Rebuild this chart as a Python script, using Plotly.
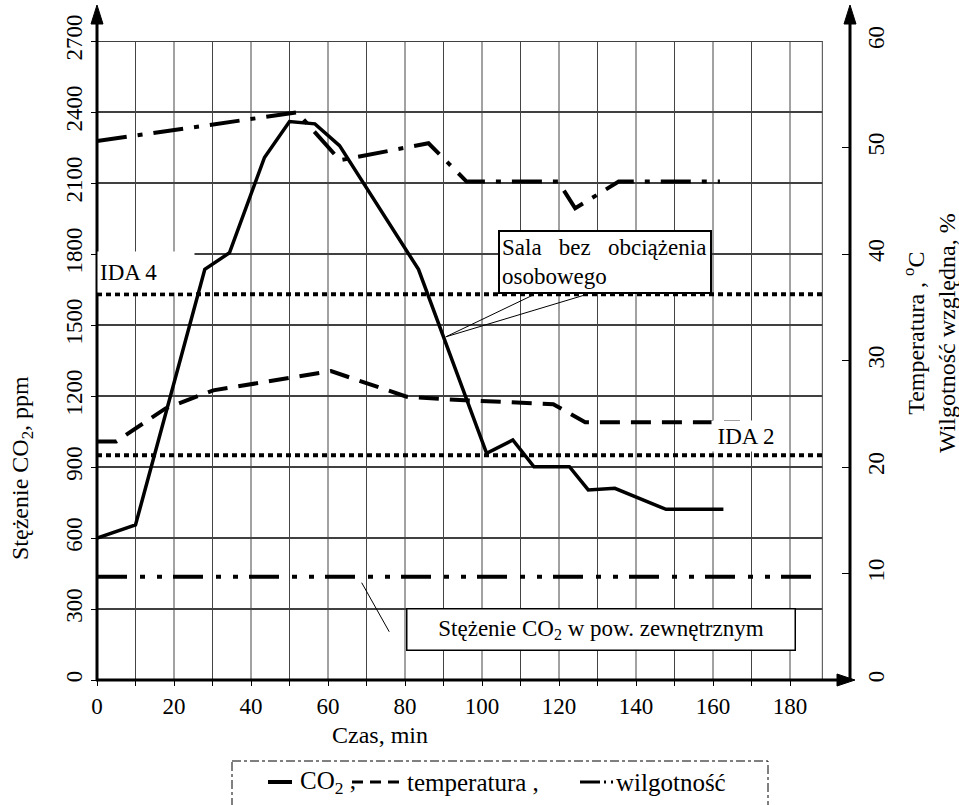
import plotly.graph_objects as go

# ---------------- data ----------------
time_co2 = [0, 10, 28, 34.4, 43.5, 50, 56.6, 63, 83.5, 101.2, 108, 113.5, 122.7, 127.6, 134.5, 147.8, 162.7]
co2_ppm = [600, 655, 1735, 1805, 2208, 2360, 2350, 2258, 1735, 958, 1014, 901, 901, 803, 810, 721, 721]

time_temp = [0, 5, 17.8, 30.2, 60.8, 80.4, 90.8, 118.5, 126.8, 167]
temp_c = [22.4, 22.4, 25.5, 27.2, 29.0, 26.6, 26.35, 25.9, 24.2, 24.2]

time_hum = [0, 52, 63.1, 86.1, 96, 119.8, 124.2, 135.5, 161.8]
hum_pct = [50.6, 53.3, 48.8, 50.4, 46.8, 46.8, 44.3, 46.8, 46.8]

ida4_ppm = 1630
ida2_ppm = 950
outdoor_ppm = 436
ref_time = [0, 188.4]
outdoor_time = [0, 186.5]

x_ticks = list(range(0, 181, 20))
x_minor = list(range(0, 181, 10))
y_ticks = list(range(0, 2701, 300))
y2_ticks = list(range(0, 61, 10))
grid_x = list(range(10, 181, 10)) + [188.4]
grid_y = list(range(300, 2701, 300))

# ---------------- geometry helpers (pixel -> paper) ----------------
W, H = 959, 805
L, R, T, B = 97, 109, 41, 125
PW, PH = W - L - R, H - T - B


def px(x):
    return (x - L) / PW


def py(y):
    return (H - B - y) / PH


FONT = "Liberation Serif"

fig = go.Figure()

# reference lines
fig.add_trace(go.Scatter(x=ref_time, y=[ida4_ppm] * 2, mode="lines",
                         line=dict(color="black", width=4, dash="5px,4px"), showlegend=False))
fig.add_trace(go.Scatter(x=ref_time, y=[ida2_ppm] * 2, mode="lines",
                         line=dict(color="black", width=4, dash="5px,4px"), showlegend=False))
fig.add_trace(go.Scatter(x=outdoor_time, y=[outdoor_ppm] * 2, mode="lines",
                         line=dict(color="black", width=4, dash="30px,13px,5px,12px,5px,11px"),
                         showlegend=False))
# measured series
fig.add_trace(go.Scatter(x=time_co2, y=co2_ppm, mode="lines", name="CO2",
                         line=dict(color="black", width=3.5), showlegend=False))
fig.add_trace(go.Scatter(x=time_temp, y=temp_c, mode="lines", name="temperatura", yaxis="y2",
                         line=dict(color="black", width=4, dash="20px,11px"), showlegend=False))
fig.add_trace(go.Scatter(x=time_hum, y=hum_pct, mode="lines", name="wilgotność", yaxis="y2",
                         line=dict(color="black", width=4, dash="30px,11px,5px,11px"),
                         showlegend=False))

shapes = []
# grid
for v in grid_y:
    shapes.append(dict(type="line", xref="x", yref="y", x0=0, x1=188.4, y0=v, y1=v,
                       line=dict(color="black", width=1.3), layer="below"))
for v in grid_x:
    shapes.append(dict(type="line", xref="x", yref="y", x0=v, x1=v, y0=0, y1=2700,
                       line=dict(color="#444", width=1), layer="below"))

# axes lines
shapes.append(dict(type="line", xref="paper", yref="paper", x0=px(97), x1=px(97), y0=py(680), y1=py(22),
                   line=dict(color="black", width=3)))
shapes.append(dict(type="line", xref="paper", yref="paper", x0=px(850), x1=px(850), y0=py(680), y1=py(22),
                   line=dict(color="black", width=3)))
shapes.append(dict(type="line", xref="paper", yref="paper", x0=px(96), x1=px(840), y0=py(680), y1=py(680),
                   line=dict(color="black", width=3)))
# arrow heads
for (tx, ty, bx1, by1, bx2, by2) in [(97, 5, 91, 24, 103, 24), (850, 5, 844, 24, 856, 24),
                                     (855, 680, 837, 674, 837, 686)]:
    shapes.append(dict(type="path", xref="paper", yref="paper",
                       path=f"M {px(tx)},{py(ty)} L {px(bx1)},{py(by1)} L {px(bx2)},{py(by2)} Z",
                       fillcolor="black", line=dict(color="black", width=1)))

# leader lines
shapes.append(dict(type="line", xref="x", yref="y", x0=90.6, y0=1450, x1=113.3, y1=1627,
                   line=dict(color="black", width=1)))
shapes.append(dict(type="line", xref="x", yref="y", x0=90.6, y0=1450, x1=126.75, y1=1627,
                   line=dict(color="black", width=1)))
shapes.append(dict(type="line", xref="x", yref="y", x0=68.75, y0=411, x1=75.9, y1=204,
                   line=dict(color="black", width=1)))

# legend box + samples
LY = 782
shapes.append(dict(type="rect", xref="paper", yref="paper", x0=px(232), x1=px(768), y0=py(761), y1=py(815),
                   line=dict(color="black", width=1, dash="dashdot")))
shapes.append(dict(type="line", xref="paper", yref="paper", x0=px(268), x1=px(292), y0=py(LY), y1=py(LY),
                   line=dict(color="black", width=4)))
shapes.append(dict(type="line", xref="paper", yref="paper", x0=px(352), x1=px(399), y0=py(LY), y1=py(LY),
                   line=dict(color="black", width=3, dash="11px,7px")))
shapes.append(dict(type="line", xref="paper", yref="paper", x0=px(580), x1=px(614), y0=py(LY), y1=py(LY),
                   line=dict(color="black", width=3, dash="20px,4px,2px,5px,2px,20px")))

annotations = []
TF = dict(family=FONT, size=23, color="black")
# IDA labels
annotations.append(dict(xref="x", yref="y", x=0, y=1722, xanchor="left", yanchor="middle",
                        text="IDA 4", showarrow=False, bgcolor="white", width=92, height=36,
                        align="left", borderpad=2, font=TF))
annotations.append(dict(xref="x", yref="y", x=168.6, y=1031, xanchor="center", yanchor="middle",
                        text="IDA 2", showarrow=False, bgcolor="white", width=66, height=28,
                        borderpad=1, font=TF))
# boxed notes
annotations.append(dict(xref="x", yref="y", x=104.2, y=1901, xanchor="left", yanchor="top",
                        text="Sala\u00a0\u00a0 bez\u00a0\u00a0 obciążenia<br>osobowego", showarrow=False,
                        bgcolor="white", bordercolor="black", borderwidth=2, borderpad=2,
                        width=206, height=56, align="left", font=TF))
annotations.append(dict(xref="x", yref="y", x=131.0, y=213, xanchor="center", yanchor="middle",
                        text="Stężenie CO<sub>2</sub> w pow. zewnętrznym", showarrow=False,
                        bgcolor="white", bordercolor="black", borderwidth=1.5, borderpad=2,
                        width=383, height=36, font=TF))
# axis titles
annotations.append(dict(xref="paper", yref="paper", x=px(22), y=py(468), xanchor="center", yanchor="middle",
                        text="Stężenie CO<sub>2</sub>, ppm", textangle=-90, showarrow=False,
                        font=dict(family=FONT, size=24, color="black")))
annotations.append(dict(xref="paper", yref="paper", x=px(380), y=py(735), xanchor="center", yanchor="middle",
                        text="Czas, min", showarrow=False, font=dict(family=FONT, size=24, color="black")))
annotations.append(dict(xref="paper", yref="paper", x=px(929), y=py(333), xanchor="center", yanchor="middle",
                        text="Temperatura , <sup>o</sup>C<br>Wilgotność względna, %", textangle=-90,
                        showarrow=False, font=dict(family=FONT, size=24, color="black")))
# legend texts
LF = dict(family=FONT, size=25, color="black")
annotations.append(dict(xref="paper", yref="paper", x=px(298), y=py(LY), xanchor="left", yanchor="middle",
                        text="CO<sub>2</sub> ,", showarrow=False, font=LF))
annotations.append(dict(xref="paper", yref="paper", x=px(405), y=py(LY), xanchor="left", yanchor="middle",
                        text="temperatura ,", showarrow=False, font=LF))
annotations.append(dict(xref="paper", yref="paper", x=px(614), y=py(LY), xanchor="left", yanchor="middle",
                        text="wilgotność", showarrow=False, font=LF))

fig.update_layout(
    width=W, height=H,
    margin=dict(l=L, r=R, t=T, b=B, pad=0),
    paper_bgcolor="white", plot_bgcolor="white",
    font=dict(family=FONT, size=23, color="black"),
    showlegend=False,
    xaxis=dict(range=[0, PW / 3.85], tickvals=x_ticks, showgrid=False, zeroline=False, showline=False,
               ticks="outside", ticklen=5, tickcolor="black", tickwidth=1,
               minor=dict(tickvals=x_minor, ticks="outside", ticklen=5, tickcolor="black"),
               tickfont=dict(family=FONT, size=23, color="black")),
    yaxis=dict(range=[0, 2700], tickvals=y_ticks, tickangle=-90, showgrid=False, zeroline=False,
               showline=False, ticks="outside", ticklen=5, tickcolor="black",
               tickfont=dict(family=FONT, size=23, color="black")),
    yaxis2=dict(range=[0, 60], tickvals=y2_ticks, tickangle=-90, overlaying="y", side="right",
                anchor="x", showgrid=False, zeroline=False, showline=False,
                ticks="inside", ticklen=8, tickcolor="black", ticklabelstandoff=10,
                tickfont=dict(family=FONT, size=23, color="black")),
    shapes=shapes,
    annotations=annotations,
)

fig.write_html("out.html")
